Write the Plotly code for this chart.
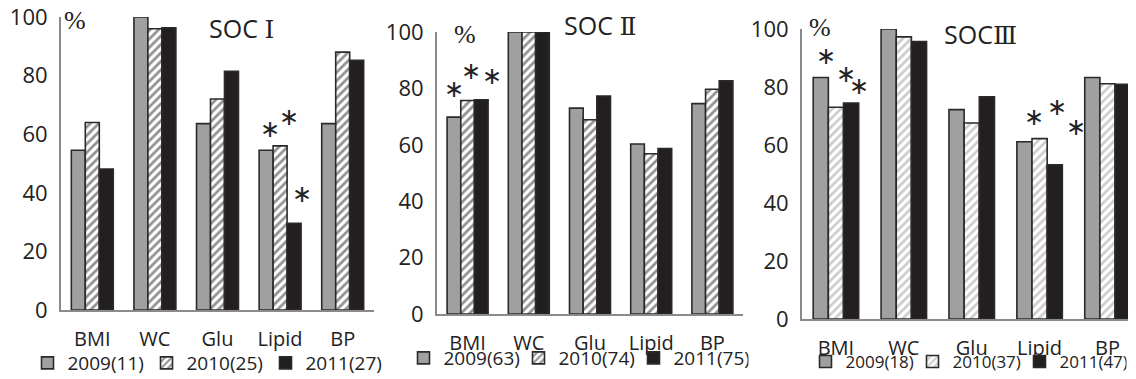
import plotly.graph_objects as go

# The page body has an 8px default margin, so the figure is made 8px smaller
# and reference pixel positions are shifted by that margin.
PAGE_W, PAGE_H = 1136, 379
OFF = 8
W, H = PAGE_W - OFF, PAGE_H - OFF

categories = ["BMI", "WC", "Glu", "Lipid", "BP"]

soc1_2009 = [54.5, 100.0, 63.6, 54.5, 63.6]
soc1_2010 = [64.0, 96.0, 72.0, 56.0, 88.0]
soc1_2011 = [48.1, 96.3, 81.5, 29.6, 85.2]
soc1_names = ["2009(11)", "2010(25)", "2011(27)"]

soc2_2009 = [69.8, 100.0, 73.0, 60.3, 74.6]
soc2_2010 = [75.7, 100.0, 68.9, 56.8, 79.7]
soc2_2011 = [76.0, 100.0, 77.3, 58.7, 82.7]
soc2_names = ["2009(63)", "2010(74)", "2011(75)"]

soc3_2009 = [83.3, 100.0, 72.2, 61.1, 83.3]
soc3_2010 = [73.0, 97.3, 67.6, 62.2, 81.1]
soc3_2011 = [74.5, 95.7, 76.6, 53.2, 80.9]
soc3_names = ["2009(18)", "2010(37)", "2011(47)"]

title_base = ["SOC ", "SOC ", "SOC"]
title_num = ["Ⅰ", "Ⅱ", "Ⅲ"]

FONT = "Open Sans, Noto Sans CJK SC, sans-serif"
GRAY = "#a0a0a1"
BLACK = "#231f20"
OUT = "#2a2a2a"
AX = "#8a8a8a"
TXT = "#222222"


def px(x):
    return (x - OFF) / W


def py(y):
    return 1 - (y - OFF) / H


panels = [
    dict(data=[soc1_2009, soc1_2010, soc1_2011], names=soc1_names,
         xdom=[61, 374], ydom=[310, 17], xr=[-0.5, 4.5], hatch="#222222",
         legend="legend", leg_x=206, leg_y=363, leg_size=19, entry=74, lab_size=20, standoff=10),
    dict(data=[soc2_2009, soc2_2010, soc2_2011], names=soc2_names,
         xdom=[437, 743], ydom=[314, 32], xr=[-0.5, 4.5], hatch="#222222",
         legend="legend2", leg_x=576, leg_y=358, leg_size=19, entry=70, lab_size=20, standoff=10),
    dict(data=[soc3_2009, soc3_2010, soc3_2011], names=soc3_names,
         xdom=[802, 1136], ydom=[319, 29], xr=[-0.5, 4.42], hatch="#9a9a9a",
         legend="legend3", leg_x=966, leg_y=362, leg_size=17, entry=62, lab_size=20, standoff=10),
]

fig = go.Figure()
layout = dict(
    width=W, height=H, margin=dict(l=0, r=0, t=0, b=0, autoexpand=False),
    paper_bgcolor="white", plot_bgcolor="white",
    barmode="group", bargap=0.33, bargroupgap=0.0,
    font=dict(family=FONT, color=TXT),
    annotations=[],
)

for i, p in enumerate(panels):
    sfx = "" if i == 0 else str(i + 1)
    xa, ya = "x" + sfx, "y" + sfx
    d0, d1, d2 = p["data"]
    n0, n1, n2 = p["names"]
    fig.add_trace(go.Bar(x=categories, y=d0, name=n0, xaxis=xa, yaxis=ya,
                         marker=dict(color=GRAY, line=dict(color=OUT, width=1.6)),
                         legend=p["legend"]))
    fig.add_trace(go.Bar(x=categories, y=d1, name=n1, xaxis=xa, yaxis=ya,
                         marker=dict(color="white", line=dict(color=OUT, width=1.6),
                                     pattern=dict(shape="/", fgcolor=p["hatch"], bgcolor="white",
                                                  size=6, solidity=0.45)),
                         legend=p["legend"]))
    fig.add_trace(go.Bar(x=categories, y=d2, name=n2, xaxis=xa, yaxis=ya,
                         marker=dict(color=BLACK, line=dict(color=OUT, width=1.6)),
                         legend=p["legend"]))
    layout["xaxis" + sfx] = dict(
        domain=[max(0, px(p["xdom"][0])), min(1, px(p["xdom"][1]))], anchor=ya, range=p["xr"],
        showline=True, linecolor=AX, linewidth=2, showgrid=False, ticks="",
        tickfont=dict(size=p["lab_size"], family=FONT, color=TXT),
        ticklabelstandoff=p["standoff"], fixedrange=True, automargin=False,
        ticklabeloverflow="allow",
    )
    layout["yaxis" + sfx] = dict(
        domain=[py(p["ydom"][0]), py(p["ydom"][1])], anchor=xa, range=[0, 100],
        tickvals=[0, 20, 40, 60, 80, 100], showline=True, linecolor=AX, linewidth=2,
        showgrid=False, zeroline=False, ticks="",
        tickfont=dict(size=22, family=FONT, color=TXT),
        ticklabelstandoff=7, fixedrange=True, automargin=False,
        ticklabeloverflow="allow",
    )
    layout[p["legend"]] = dict(
        orientation="h", x=px(p["leg_x"]), y=py(p["leg_y"]), xanchor="center", yanchor="middle",
        font=dict(size=p["leg_size"], family=FONT, color=TXT),
        itemwidth=30, entrywidth=p["entry"], tracegroupgap=0, bgcolor="rgba(0,0,0,0)",
    )


def note(text, x, y, size, family):
    layout["annotations"].append(dict(text=text, x=px(x), y=py(y), xref="paper", yref="paper",
                                      xanchor="center", yanchor="middle", showarrow=False,
                                      font=dict(size=size, family=family, color=TXT)))


# titles
title_pos = [(241, 28), (600, 25), (980, 34)]
for base, num, (x, y) in zip(title_base, title_num, title_pos):
    note(base + "<span style='font-family:DejaVu Serif'>" + num + "</span>", x, y, 25, FONT)

# percent signs
for x, y in [(75, 20), (465, 34), (820, 27)]:
    note("%", x, y, 26, "Liberation Serif, serif")

# significance asterisks
stars = [(270, 129), (289, 117), (302, 194),
         (454, 89), (471, 71), (492, 76),
         (826, 56), (846, 74), (859, 86),
         (1034, 117), (1057, 107), (1076, 127)]
for x, y in stars:
    note("∗", x, y, 24, "DejaVu Sans")

fig.update_layout(**layout)
fig.write_html("out.html")
